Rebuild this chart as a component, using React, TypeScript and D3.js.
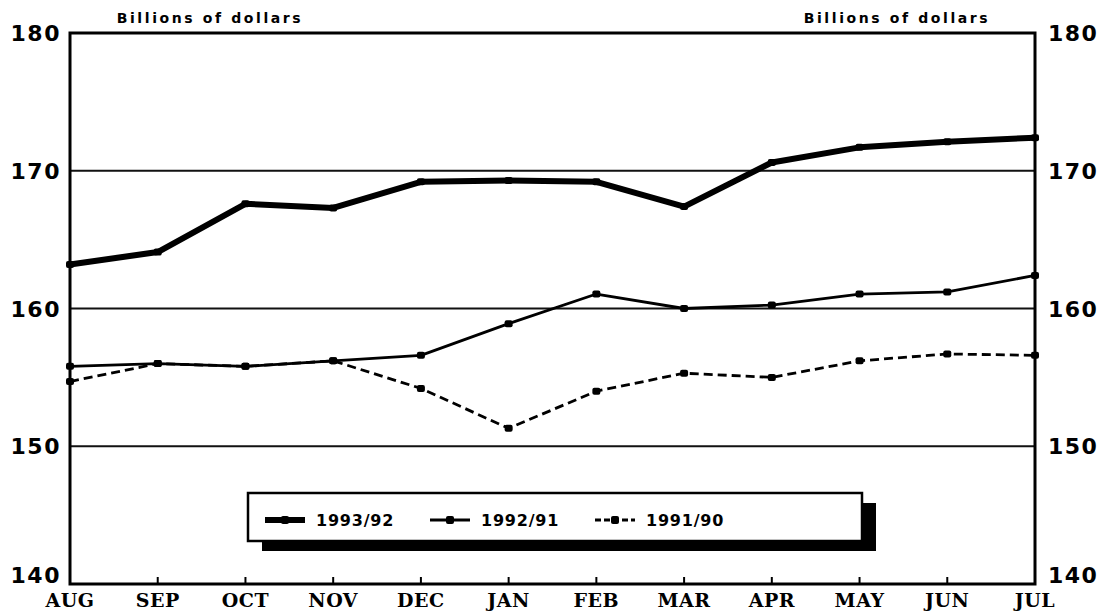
import React, { useRef, useEffect } from "react";
import * as d3 from "d3";

const months = ["AUG", "SEP", "OCT", "NOV", "DEC", "JAN", "FEB", "MAR", "APR", "MAY", "JUN", "JUL"];
const s9392 = [163.2, 164.1, 167.6, 167.3, 169.2, 169.3, 169.2, 167.4, 170.6, 171.7, 172.1, 172.4];
const s9291 = [155.8, 156.0, 155.8, 156.2, 156.6, 158.9, 161.05, 160.0, 160.25, 161.05, 161.2, 162.4];
const s9190 = [154.7, 156.0, 155.8, 156.2, 154.2, 151.3, 154.0, 155.3, 155.0, 156.2, 156.7, 156.6];
const seriesNames = ["1993/92", "1992/91", "1991/90"];
const yTicks = [140, 150, 160, 170, 180];

const App = () => {
  const svgRef = useRef<SVGSVGElement>(null);

  useEffect(() => {
    const svg = d3.select(svgRef.current);
    svg.selectAll("*").remove();

    const width = 1108;
    const height = 612;
    const m = { top: 33, right: 73, bottom: 28, left: 70 };

    svg.attr("width", width).attr("height", height);
    svg.append("rect").attr("width", width).attr("height", height).attr("fill", "#fff");

    const x = d3.scalePoint().domain(months).range([m.left, width - m.right]);
    const y = d3.scaleLinear().domain([140, 180]).range([height - m.bottom, m.top]);

    // grid lines
    svg.selectAll("line.grid")
      .data(yTicks.filter(t => t > 140 && t < 180))
      .join("line")
      .attr("x1", m.left).attr("x2", width - m.right)
      .attr("y1", d => y(d)).attr("y2", d => y(d))
      .attr("stroke", "#111").attr("stroke-width", 2);

    // frame
    svg.append("rect")
      .attr("x", m.left).attr("y", m.top)
      .attr("width", width - m.right - m.left)
      .attr("height", height - m.bottom - m.top)
      .attr("fill", "none").attr("stroke", "#000").attr("stroke-width", 3);

    // bottom ticks
    svg.selectAll("line.tick")
      .data(months.slice(1, -1))
      .join("line")
      .attr("x1", d => x(d)!).attr("x2", d => x(d)!)
      .attr("y1", y(140)).attr("y2", y(140) - 7)
      .attr("stroke", "#000").attr("stroke-width", 2);

    // month labels
    svg.selectAll("text.month")
      .data(months)
      .join("text")
      .attr("x", d => x(d)!)
      .attr("y", 607)
      .attr("text-anchor", "middle")
      .style("font-family", "'DejaVu Serif', serif")
      .style("font-weight", "bold")
      .style("font-size", "19px")
      .style("letter-spacing", "0.5px")
      .text(d => d);

    // y labels both sides
    const yl = (side: "l" | "r") =>
      svg.selectAll(`text.y${side}`)
        .data(yTicks)
        .join("text")
        .attr("x", side === "l" ? 61 : 1048)
        .attr("y", d => (d === 140 ? y(d) - 1 : y(d) + 8))
        .attr("text-anchor", side === "l" ? "end" : "start")
        .style("font-family", "'DejaVu Sans', sans-serif")
        .style("font-weight", "bold")
        .style("font-size", "22px")
        .style("letter-spacing", "1.5px")
        .text(d => d);
    yl("l");
    yl("r");

    // unit titles
    [[210, "Billions of dollars"], [897, "Billions of dollars"]].forEach(([cx, t]) => {
      svg.append("text")
        .attr("x", cx as number).attr("y", 23)
        .attr("text-anchor", "middle")
        .style("font-family", "'DejaVu Sans', sans-serif")
        .style("font-weight", "bold")
        .style("font-size", "14px")
        .style("letter-spacing", "2.6px")
        .text(t as string);
    });

    const styles = [
      { data: s9392, w: 6, dash: null, mk: 8 },
      { data: s9291, w: 2.8, dash: null, mk: 8 },
      { data: s9190, w: 2.8, dash: "9,5", mk: 8 },
    ];

    const line = d3.line<number>().x((_, i) => x(months[i])!).y(d => y(d));

    styles.forEach(s => {
      svg.append("path")
        .datum(s.data)
        .attr("d", line)
        .attr("fill", "none")
        .attr("stroke", "#000")
        .attr("stroke-width", s.w)
        .attr("stroke-dasharray", s.dash)
        .attr("stroke-linejoin", "round");
      svg.selectAll(null)
        .data(s.data)
        .join("rect")
        .attr("x", (_, i) => x(months[i])! - s.mk / 2)
        .attr("y", d => y(d) - s.mk / 2 + 0.5)
        .attr("width", s.mk).attr("height", s.mk - 1)
        .attr("rx", 2)
        .attr("fill", "#000");
    });

    // legend
    const lg = { x: 248, y: 493, w: 614, h: 48 };
    svg.append("rect")
      .attr("x", lg.x + 14).attr("y", lg.y + 10)
      .attr("width", lg.w).attr("height", lg.h)
      .attr("fill", "#000");
    svg.append("rect")
      .attr("x", lg.x).attr("y", lg.y)
      .attr("width", lg.w).attr("height", lg.h)
      .attr("fill", "#fff").attr("stroke", "#000").attr("stroke-width", 2.5);

    const itemX = [265, 430, 595];
    styles.forEach((s, i) => {
      const x0 = itemX[i];
      const ly = lg.y + 27;
      svg.append("line")
        .attr("x1", x0).attr("x2", x0 + 40)
        .attr("y1", ly).attr("y2", ly)
        .attr("stroke", "#000").attr("stroke-width", s.w)
        .attr("stroke-dasharray", s.dash ? "6,3" : null);
      svg.append("rect")
        .attr("x", x0 + 16).attr("y", ly - 4)
        .attr("width", 8).attr("height", 8).attr("rx", 2)
        .attr("fill", "#000");
      svg.append("text")
        .attr("x", x0 + 51).attr("y", ly + 6)
        .style("font-family", "'DejaVu Sans', sans-serif")
        .style("font-weight", "bold")
        .style("font-size", "16px")
        .style("letter-spacing", "0.8px")
        .text(seriesNames[i]);
    });
  }, []);

  return <svg ref={svgRef} style={{ position: "absolute", left: 0, top: 0 }} />;
};

export default App;
